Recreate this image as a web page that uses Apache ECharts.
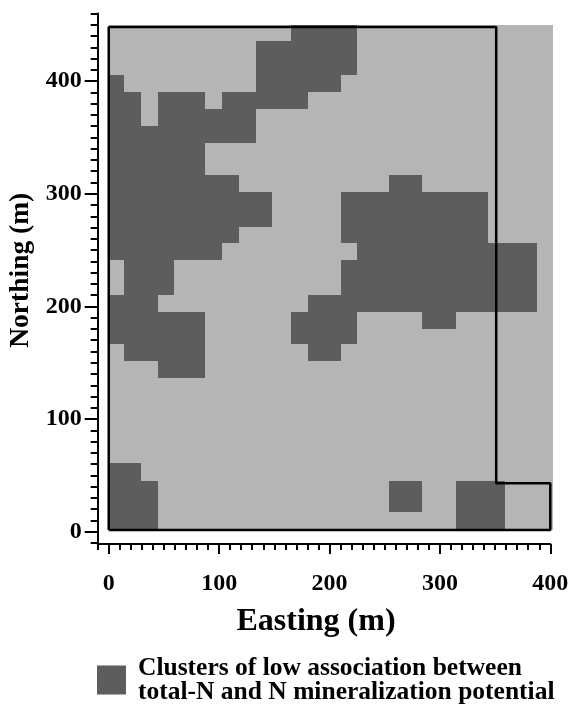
<!DOCTYPE html>
<html><head><meta charset="utf-8">
<style>html,body{margin:0;padding:0;background:#fff}#c{width:573px;height:706px}</style>
<script src="https://cdn.jsdelivr.net/npm/echarts@6/dist/echarts.min.js"></script>
</head><body><div id="c"></div>
<script>
// Cell edges, metres
const eastingEdges = [0,14.1,29.5,44.7,59.4,73.6,87.5,102.6,118,133.2,148.2,165.1,180.3,195,210.1,225.2,239.4,253.6,268.4,283.8,299.2,314.3,329,343.8,358.9,372.6,387.7];
const northingEdges = [450,435.6,420.5,405.4,390.3,375.2,360,344.8,330.8,316.4,301.3,286,270.7,256,240.9,225.6,210.4,195,179.9,166.6,151.3,136.7,60.7,45.4,17.2,1.5];
// [top row edge, bottom row edge, first column edge, last column edge]
const clusterRuns = [
 [0,1,11,15],[1,3,9,15],[3,4,0,1],[3,4,9,14],
 [4,5,0,2],[4,5,3,6],[4,5,7,12],
 [5,6,0,2],[5,6,3,9],[6,7,0,9],[7,9,0,6],
 [9,10,0,8],[9,10,17,19],[10,12,0,10],[10,13,14,23],[12,13,0,8],
 [13,14,0,7],[13,14,15,26],[14,16,1,4],[14,16,14,26],
 [16,17,0,3],[16,17,12,26],
 [17,19,0,6],[17,19,11,15],[17,18,19,21],
 [19,20,1,6],[19,20,12,14],[20,21,3,6],
 [22,23,0,2],[23,25,0,3],[23,24,17,19],[23,25,21,24]
];
const sampledArea = [[0,402.4,1.5,450]];
const studyBoundary = [[0,1.5],[400,1.5],[400,43],[351,43],[351,448],[0,448],[0,1.5]];
const majorTicks = [0,100,200,300,400];
const legendName = 'Clusters of low association between\ntotal-N and N mineralization potential';
const yMajorTicks = [0,100,200,300,400];

const clusterRects = clusterRuns.map(r => [eastingEdges[r[2]],eastingEdges[r[3]],northingEdges[r[1]],northingEdges[r[0]]]);

function rectItem(color){
  return function(params, api){
    const a = api.coord([api.value(0), api.value(3)]);
    const b = api.coord([api.value(1), api.value(2)]);
    const x0=Math.round(a[0]),y0=Math.round(a[1]),x1=Math.round(b[0]),y1=Math.round(b[1]);
    return {type:'rect', shape:{x:x0,y:y0,width:x1-x0,height:y1-y0},
      style:{fill:color}};
  };
}
const font = '"Liberation Serif","Times New Roman",serif';
const black = '#000';
const LIGHT = '#b5b5b5', DARK = '#5e5d5b';

function xAx(over){
  return {type:'value',min:-10,max:400,interval:10,position:'bottom',offset:1,
    axisLine:{show:!over,onZero:false,lineStyle:{color:black,width:2}},
    splitLine:{show:false},
    axisTick:over?{show:true,length:10,customValues:majorTicks,lineStyle:{color:black,width:2}}
                 :{show:true,length:6,lineStyle:{color:black,width:2}},
    axisLabel:over?{show:false}:{show:true,customValues:majorTicks,color:black,fontFamily:font,fontWeight:'bold',fontSize:24,margin:28},
    name:over?'':'Easting (m)',nameLocation:'middle',nameGap:62,
    nameTextStyle:{color:black,fontFamily:font,fontWeight:'bold',fontSize:32,padding:[0,16,0,0]}};
}
function yAx(over){
  return {type:'value',min:-10,max:460,interval:10,position:'left',
    axisLine:{show:!over,onZero:false,lineStyle:{color:black,width:2}},
    splitLine:{show:false},
    axisTick:over?{show:true,length:13,customValues:yMajorTicks,lineStyle:{color:black,width:2}}
                 :{show:true,length:7,lineStyle:{color:black,width:2}},
    axisLabel:over?{show:false}:{show:true,customValues:yMajorTicks,color:black,fontFamily:font,fontWeight:'bold',fontSize:24,margin:16},
    name:over?'':'Northing (m)',nameLocation:'middle',nameGap:60,
    nameTextStyle:{color:black,fontFamily:font,fontWeight:'bold',fontSize:27.5,padding:[0,0,0,16]}};
}
const chart = echarts.init(document.getElementById('c'),null,{renderer:'canvas'});
chart.setOption({
  animation:false,
  backgroundColor:'#fff',
  grid:{left:97.7,top:13.5,width:452.6,height:529.5,containLabel:false,outerBoundsMode:'none'},
  xAxis:[xAx(false),xAx(true)],
  yAxis:[yAx(false),yAx(true)],
  legend:{show:true,left:92,top:650,orient:'vertical',itemWidth:29,itemHeight:29,itemGap:0,
    icon:'rect',data:[legendName],
    textStyle:{color:black,fontFamily:font,fontWeight:'bold',fontSize:25.5,lineHeight:24,padding:[0,0,0,7]}},
  series:[
    {type:'custom',name:'Sampled area',coordinateSystem:'cartesian2d',clip:false,silent:true,
      renderItem:rectItem(LIGHT),data:sampledArea,encode:{x:[0,1],y:[2,3]},z:1},
    {type:'custom',name:legendName,coordinateSystem:'cartesian2d',clip:false,silent:true,
      renderItem:rectItem(DARK),data:clusterRects,itemStyle:{color:DARK},encode:{x:[0,1],y:[2,3]},z:2},
    {type:'line',name:'Study boundary',data:studyBoundary,symbol:'none',clip:false,silent:true,
      lineStyle:{color:black,width:2.5},z:3}
  ]
});
</script></body></html>
